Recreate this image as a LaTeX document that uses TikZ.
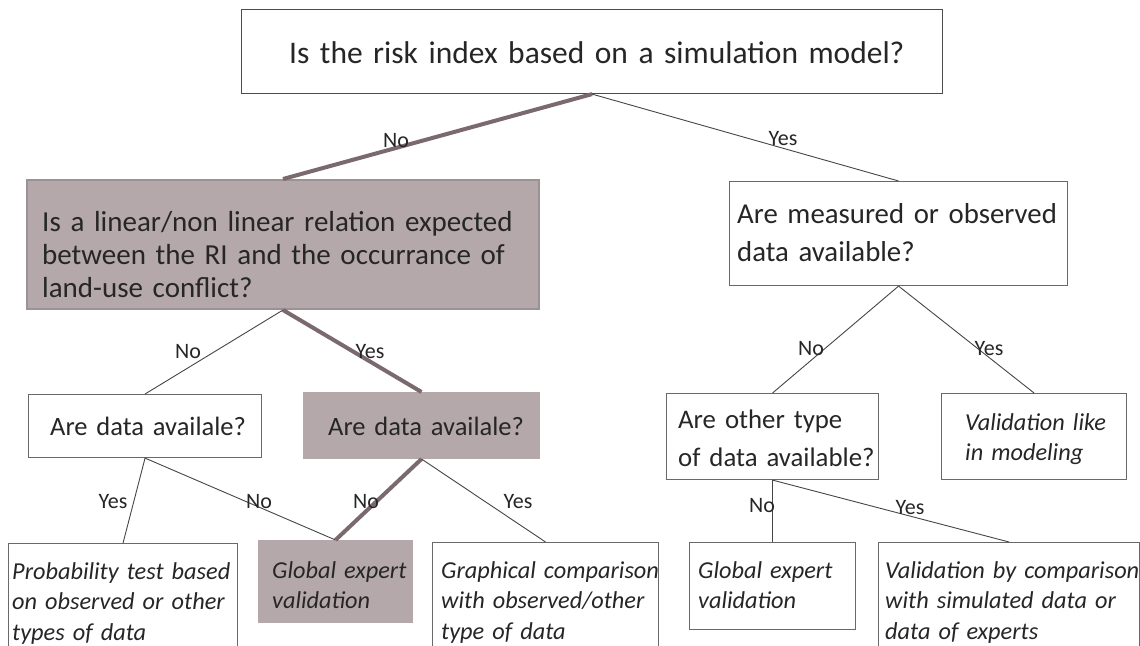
\documentclass[tikz,border=0pt]{standalone}
\usepackage{fontspec}
\setmainfont{Carlito}

\definecolor{ink}{RGB}{38,38,38}
\definecolor{greyfill}{RGB}{180,168,170}
\definecolor{greyedge}{RGB}{156,145,148}
\definecolor{pathline}{RGB}{122,106,110}
\definecolor{thinline}{RGB}{70,70,70}
\definecolor{boxline}{RGB}{105,105,105}

% type sizes (size / line pitch)
\newcommand\fTop{\fontsize{31.5}{38}\selectfont}
\newcommand\fBig{\fontsize{29}{33}\selectfont}
\newcommand\fRight{\fontsize{28.8}{38}\selectfont}
\newcommand\fMid{\fontsize{26.5}{33}\selectfont}
\newcommand\fOther{\fontsize{26.8}{38}\selectfont}
\newcommand\fItal{\fontsize{24.3}{30.5}\selectfont\itshape}
\newcommand\fLab{\fontsize{22}{26}\selectfont}

\tikzset{
  x=1pt, y=-1pt,
  box/.style={draw=boxline, line width=1.1pt, fill=white, inner sep=0pt, anchor=north west},
  hibox/.style={fill=greyfill, draw=greyfill, line width=1pt, inner sep=0pt, anchor=north west},
  txt/.style={anchor=base west, inner sep=0pt, align=left, text=ink},
  lab/.style={anchor=base, inner sep=0pt, text=ink, font=\fLab},
  conn/.style={draw=thinline, line width=0.9pt},
  hipath/.style={draw=pathline, line width=4pt},
}

\begin{document}
\begin{tikzpicture}
\fill[white] (0,0) rectangle (1140,645);
\useasboundingbox (0,0) rectangle (1140,645);

% ---- boxes ----
\node[box, draw=black!70, minimum width=701pt, minimum height=84pt] (A) at (241,9) {};
\node[hibox, draw=greyedge, line width=2pt, minimum width=512pt, minimum height=129pt] (B) at (26,179) {};
\node[box, minimum width=338pt, minimum height=104pt] (C) at (729,181) {};
\node[box, minimum width=233pt, minimum height=63pt] (D) at (28,394) {};
\node[hibox, minimum width=236pt, minimum height=66pt] (E) at (303,392) {};
\node[box, minimum width=212pt, minimum height=86pt] (F) at (666,393) {};
\node[box, minimum width=185pt, minimum height=86pt] (G) at (941,393) {};
\node[box, minimum width=229pt, minimum height=140pt] (H) at (8,543) {};
\node[hibox, minimum width=154pt, minimum height=82pt] (I) at (258,540) {};
\node[box, minimum width=226pt, minimum height=140pt] (J) at (432,542) {};
\node[box, minimum width=166pt, minimum height=87pt] (K) at (689,542) {};
\node[box, minimum width=261pt, minimum height=140pt] (L) at (878,542) {};

% ---- box texts ----
\node[txt, text width=640pt, font=\fTop] (At) at (289,63) {Is the risk index based on a simulation model?};
\node[txt, text width=520pt, font=\fBig] (Bt) at (42,231)
  {Is a linear/non linear relation expected\\between the RI and the occurrance of\\land-use conflict?};
\node[txt, text width=360pt, font=\fRight] (Ct) at (737,223) {Are measured or observed\\data available?};
\node[txt, text width=240pt, font=\fMid] (Dt) at (50,435) {Are data availale?};
\node[txt, text width=240pt, font=\fMid] (Et) at (328,435) {Are data availale?};
\node[txt, text width=260pt, font=\fOther] (Ft) at (678,428) {Are other type\\of data available?};
\node[txt, text width=190pt, font=\fItal] (Gt) at (965,430) {Validation like\\in modeling};
\node[txt, text width=260pt, font=\fItal] (Ht) at (12,579) {Probability test based\\on observed or other\\types of data};
\node[txt, text width=160pt, font=\fItal] (It) at (272,578) {Global expert\\validation};
\node[txt, text width=260pt, font=\fItal] (Jt) at (441,578) {Graphical comparison\\with observed/other\\type of data};
\node[txt, text width=160pt, font=\fItal] (Kt) at (698,578) {Global expert\\validation};
\node[txt, text width=280pt, font=\fItal] (Lt) at (885,578) {Validation by comparison\\with simulated data or\\data of experts};

% ---- connectors ----
\draw[hipath] (A.south) -- (B.north);
\draw[conn]   (A.south) -- (C.north);
\draw[conn]   (B.south) -- (D.north);
\draw[hipath] (B.south) -- (E.north);
\draw[conn]   (C.south) -- (F.north);
\draw[conn]   (C.south) -- (G.north);
\draw[conn]   (D.south) -- (H.north);
\draw[conn]   (D.south) -- (I.north);
\draw[hipath] (E.south) -- (I.north);
\draw[conn]   (E.south) -- (J.north);
\draw[conn]   (F.south) -- (K.north);
\draw[conn]   (F.south) -- (L.north);

% ---- branch labels ----
\node[lab] (nA) at (396,147) {No};
\node[lab] (yA) at (783,145) {Yes};
\node[lab] (nB) at (188,358) {No};
\node[lab] (yB) at (370,358) {Yes};
\node[lab] (nC) at (811,355) {No};
\node[lab] (yC) at (989,355) {Yes};
\node[lab] (yD) at (113,508) {Yes};
\node[lab] (nD) at (259,508) {No};
\node[lab] (nE) at (366,508) {No};
\node[lab] (yE) at (518,508) {Yes};
\node[lab] (nF) at (762,512) {No};
\node[lab] (yF) at (910,514) {Yes};
\end{tikzpicture}
\end{document}
